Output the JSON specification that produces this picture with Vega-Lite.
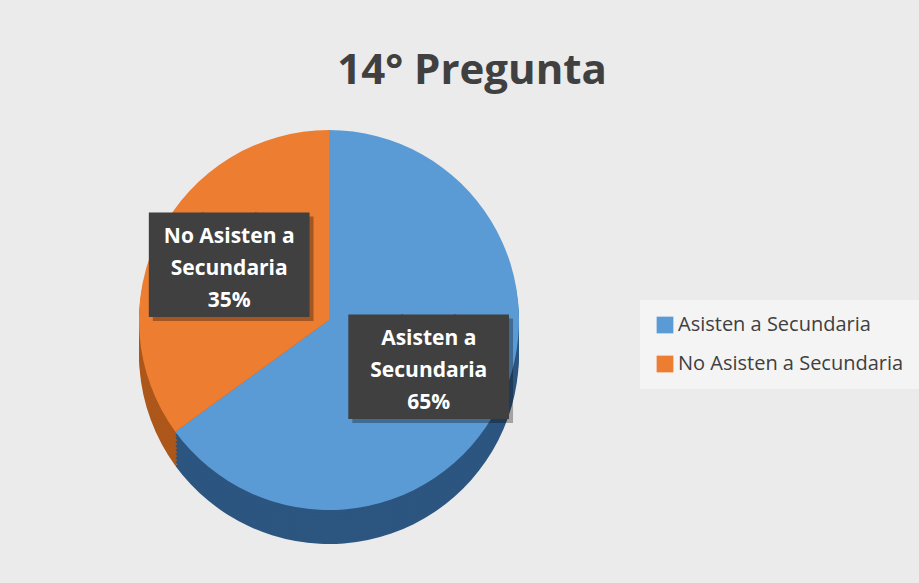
{
  "$schema": "https://vega.github.io/schema/vega-lite/v6.json",
  "width": 600,
  "height": 440,
  "autosize": {"type": "none"},
  "padding": {"left": 29, "top": 100, "right": 290, "bottom": 43},
  "background": "#ebebeb",
  "title": {
    "text": "14° Pregunta",
    "fontSize": 42,
    "font": "Open Sans",
    "fontWeight": "bold",
    "color": "#404040",
    "anchor": "middle",
    "dx": 143,
    "offset": 7
  },
  "data": {
    "values": [
      {"cat": "Asisten a Secundaria", "pct": 65, "label": "Asisten a\nSecundaria\n65%"},
      {"cat": "No Asisten a Secundaria", "pct": 35, "label": "No Asisten a\nSecundaria\n35%"}
    ]
  },
  "encoding": {
    "theta": {"field": "pct", "type": "quantitative", "stack": true}
  },
  "layer": [
    {"mark": {"type": "arc", "radius": 190, "yOffset": 34}, "encoding": {"fill": {"field": "cat", "type": "nominal", "scale": {"range": ["#2c5580", "#ad571b"]}, "legend": null}}},
    {"mark": {"type": "arc", "radius": 190, "yOffset": 30}, "encoding": {"fill": {"field": "cat", "type": "nominal", "scale": {"range": ["#2c5580", "#ad571b"]}, "legend": null}}},
    {"mark": {"type": "arc", "radius": 190, "yOffset": 26}, "encoding": {"fill": {"field": "cat", "type": "nominal", "scale": {"range": ["#2c5580", "#ad571b"]}, "legend": null}}},
    {"mark": {"type": "arc", "radius": 190, "yOffset": 22}, "encoding": {"fill": {"field": "cat", "type": "nominal", "scale": {"range": ["#2c5580", "#ad571b"]}, "legend": null}}},
    {"mark": {"type": "arc", "radius": 190, "yOffset": 18}, "encoding": {"fill": {"field": "cat", "type": "nominal", "scale": {"range": ["#2c5580", "#ad571b"]}, "legend": null}}},
    {"mark": {"type": "arc", "radius": 190, "yOffset": 14}, "encoding": {"fill": {"field": "cat", "type": "nominal", "scale": {"range": ["#2c5580", "#ad571b"]}, "legend": null}}},
    {"mark": {"type": "arc", "radius": 190, "yOffset": 10}, "encoding": {"fill": {"field": "cat", "type": "nominal", "scale": {"range": ["#2c5580", "#ad571b"]}, "legend": null}}},
    {"mark": {"type": "arc", "radius": 190, "yOffset": 6}, "encoding": {"fill": {"field": "cat", "type": "nominal", "scale": {"range": ["#2c5580", "#ad571b"]}, "legend": null}}},
    {"mark": {"type": "arc", "radius": 190, "yOffset": 3}, "encoding": {"fill": {"field": "cat", "type": "nominal", "scale": {"range": ["#2c5580", "#ad571b"]}, "legend": null}}},
    {
      "mark": {"type": "arc", "radius": 190},
      "encoding": {
        "color": {
          "field": "cat",
          "type": "nominal",
          "scale": {"domain": ["Asisten a Secundaria", "No Asisten a Secundaria"], "range": ["#5B9BD5", "#ED7D31"]},
          "legend": {
            "orient": "none",
            "legendX": 611,
            "legendY": 200,
            "title": null,
            "symbolType": "square",
            "symbolSize": 280,
            "symbolStrokeWidth": 0,
            "labelFontSize": 20,
            "labelFont": "Open Sans",
            "labelColor": "#404040",
            "labelOffset": 3,
            "labelLimit": 400,
            "rowPadding": 19,
            "padding": 15,
            "fillColor": "#f4f4f4"
          }
        }
      }
    },
    {
      "mark": {"type": "text", "radius": 112, "text": "███", "font": "DejaVu Sans Mono", "fontSize": 88, "color": "#000000", "opacity": 0.3, "dx": 4, "dy": 4, "baseline": "middle", "align": "center"},
      "encoding": {"detail": {"field": "cat"}}
    },
    {
      "mark": {"type": "text", "radius": 112, "text": "███", "font": "DejaVu Sans Mono", "fontSize": 88, "color": "#404040", "baseline": "middle", "align": "center"},
      "encoding": {"detail": {"field": "cat"}}
    },
    {
      "mark": {"type": "text", "radius": 112, "lineBreak": "\n", "font": "Open Sans", "fontWeight": "bold", "fontSize": 21, "lineHeight": 32, "dy": -32, "color": "#ffffff", "baseline": "middle", "align": "center"},
      "encoding": {"detail": {"field": "cat"}, "text": {"field": "label"}}
    }
  ]
}
